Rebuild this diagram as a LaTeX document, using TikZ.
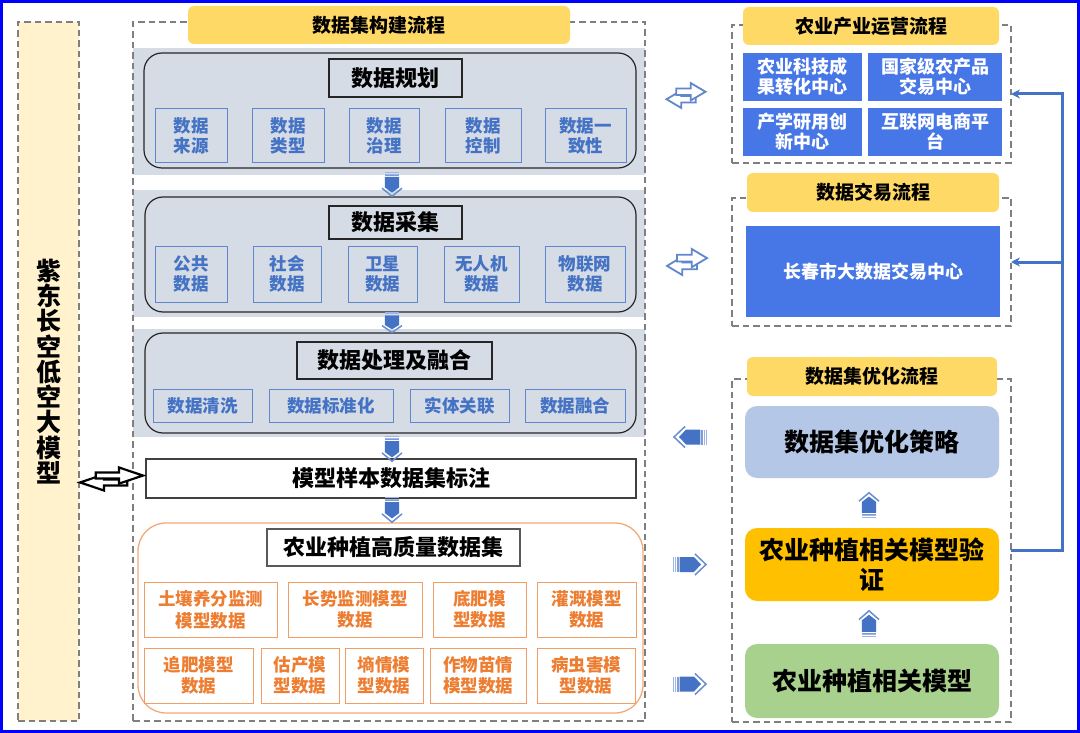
\documentclass[tikz,border=0pt]{standalone}
\usepackage{fontspec}
\setmainfont{Noto Sans CJK SC}
\usetikzlibrary{arrows.meta,calc}
\definecolor{hdr}{HTML}{FFD966}
\definecolor{lyel}{HTML}{FFF2CC}
\definecolor{band}{HTML}{D6DCE5}
\definecolor{sblue}{HTML}{4472C4}
\definecolor{rblue}{HTML}{4776E6}
\definecolor{optb}{HTML}{B4C7E7}
\definecolor{verif}{HTML}{FFC000}
\definecolor{modg}{HTML}{A9D18E}
\definecolor{orgt}{HTML}{ED7D31}
\definecolor{orgb}{HTML}{F4B183}
\definecolor{dgray}{HTML}{7F7F7F}
\definecolor{stripe}{HTML}{9DB5E3}
\newcommand\boxnode[7]{\node[#1, inner sep=0pt, outer sep=0pt, minimum width={(#5-#3)*1pt}, minimum height={(#6-#4)*1pt}] (#2) at ({(#3+#5)/2},{(#4+#6)/2}) {#7};}
\tikzset{
  dashbox/.style={draw=dgray, line width=1.5pt, dash pattern=on 6.5pt off 4pt},
  hdrbox/.style={fill=hdr, rounded corners=6pt, font=\bfseries\fontsize{19}{22}\selectfont},
  ttl/.style={draw=black!85, line width=1.2pt, font=\bfseries\fontsize{22}{26}\selectfont},
  sub/.style={draw=sblue!85, line width=1pt, text=sblue, font=\bfseries\fontsize{17.5}{20}\selectfont, align=center},
  osub/.style={draw=orgt!75, line width=1pt, text=orgt, font=\bfseries\fontsize{17.5}{21.5}\selectfont, align=center},
  rbox/.style={fill=rblue, text=white, font=\bfseries\fontsize{18}{20}\selectfont, align=center},
  bigbox/.style={rounded corners=12pt, font=\bfseries\fontsize{25}{30}\selectfont, align=center},
  roundband/.style={draw=black!85, line width=1.2pt, rounded corners=18pt},
  conn/.style={draw=sblue, line width=3pt, line join=miter},
  pics/blockarr/.style n args={2}{code={
    \begin{scope}[xscale=#1/17, yscale=#2/10.5]
      \fill[stripe] (-17,-7.5) rectangle (-15.8,7.5);
      \fill[stripe] (-14.8,-7.5) rectangle (-13.6,7.5);
      \fill[sblue!70] (-12.6,-7.5) rectangle (-11.4,7.5);
      \fill[sblue] (-10.4,-7.5) -- (4,-7.5) -- (11,0) -- (4,7.5) -- (-10.4,7.5) -- cycle;
      \draw[sblue!80, line width=1.5pt, line join=miter] (5,-10.5) -- (16,0) -- (5,10.5);
    \end{scope}
  }},
  pics/dblarr/.style n args={4}{code={
    \begin{scope}[shift={(-#1,-#2)}, xscale=2*#1, yscale=2*#2]
      \draw[#3, line width=#4, fill=white, line join=miter] (0.75,0.52) -- (0.38,0.52) -- (0.38,0.30) -- (0,0.65) -- (0.38,1.0) -- (0.38,0.78) -- (0.75,0.78) -- cycle;
      \draw[#3, line width=#4, fill=white, line join=miter] (0.25,0.22) -- (0.62,0.22) -- (0.62,0.0) -- (1.0,0.35) -- (0.62,0.70) -- (0.62,0.48) -- (0.25,0.48) -- cycle;
    \end{scope}
  }}
}
\begin{document}
\begin{tikzpicture}[x=1pt,y=-1pt]
\useasboundingbox (0,0) rectangle (1080,733);
\fill[white] (0,0) rectangle (1080,733);
% left column
\boxnode{dashbox, fill=lyel, font=\bfseries\fontsize{25}{25.3}\selectfont, align=center}{leftbox}{18}{22}{79}{721}{紫\\东\\长\\空\\低\\空\\大\\模\\型}
% bands
\fill[band] (133,48) rectangle (645,175);
\fill[band] (133,190) rectangle (645,317);
\fill[band] (133,329) rectangle (645,437);
\boxnode{dashbox}{midbox}{133}{22}{645}{721}{}
\boxnode{hdrbox}{hdrmid}{188}{6}{570}{44}{数据集构建流程}
% band 1
\boxnode{roundband}{r1}{144}{53}{636}{168}{}
\boxnode{ttl}{t1}{329}{59}{462}{97}{数据规划}
\boxnode{sub}{s11}{155}{109}{227}{163}{数据\\来源}
\boxnode{sub}{s12}{252}{109}{324}{163}{数据\\类型}
\boxnode{sub}{s13}{349}{109}{419}{163}{数据\\治理}
\boxnode{sub}{s14}{445}{109}{521}{163}{数据\\控制}
\boxnode{sub}{s15}{545}{109}{626}{163}{数据一\\致性}
% band 2
\boxnode{roundband}{r2}{145}{197}{636}{312}{}
\boxnode{ttl}{t2}{329}{206}{462}{239}{数据采集}
\boxnode{sub}{s21}{155}{246}{227}{302}{公共\\数据}
\boxnode{sub}{s22}{253}{246}{321}{302}{社会\\数据}
\boxnode{sub}{s23}{348}{246}{417}{302}{卫星\\数据}
\boxnode{sub}{s24}{444}{246}{519}{302}{无人机\\数据}
\boxnode{sub}{s25}{545}{246}{625}{302}{物联网\\数据}
% band 3
\boxnode{roundband}{r3}{145}{333}{636}{433}{}
\boxnode{ttl}{t3}{297}{342}{492}{379}{数据处理及融合}
\boxnode{sub}{s31}{153}{389}{252}{422}{数据清洗}
\boxnode{sub}{s32}{269}{389}{393}{422}{数据标准化}
\boxnode{sub}{s33}{410}{389}{509}{422}{实体关联}
\boxnode{sub}{s34}{525}{389}{625}{422}{数据融合}
% annotation
\boxnode{ttl, fill=white, draw=black!75}{annot}{146}{459}{636}{498}{模型样本数据集标注}
% orange
\boxnode{draw=orgt!65, line width=1.3pt, rounded corners=28pt}{orect}{138}{523}{643}{713}{}
\boxnode{ttl, fill=white, draw=black!65}{ot}{267}{529}{520}{566}{农业种植高质量数据集}
\boxnode{osub}{o11}{144}{582}{277}{637}{土壤养分监测\\模型数据}
\boxnode{osub}{o12}{288}{582}{422}{637}{长势监测模型\\数据}
\boxnode{osub}{o13}{433}{582}{526}{637}{底肥模\\型数据}
\boxnode{osub}{o14}{537}{582}{636}{637}{灌溉模型\\数据}
\boxnode{osub}{o21}{144}{648}{253}{703}{追肥模型\\数据}
\boxnode{osub}{o22}{261}{648}{339}{703}{估产模\\型数据}
\boxnode{osub}{o23}{345}{648}{423}{703}{墒情模\\型数据}
\boxnode{osub}{o24}{430}{648}{526}{703}{作物苗情\\模型数据}
\boxnode{osub}{o25}{537}{648}{635}{703}{病虫害模\\型数据}
% down arrows
\pic[rotate=-90] at (392,184.5) {blockarr={12.5}{10}};
\pic[rotate=-90] at (392,322.5) {blockarr={10.5}{10}};
\pic[rotate=-90] at (392,449) {blockarr={13}{10}};
\pic[rotate=-90] at (392,510) {blockarr={13}{10}};
% right column
\boxnode{dashbox}{box1}{732}{25}{1011}{163}{}
\boxnode{hdrbox}{hdr1}{743}{7}{999}{45}{农业产业运营流程}
\boxnode{rbox}{rb1}{743}{53}{862}{101}{农业科技成\\果转化中心}
\boxnode{rbox}{rb2}{868}{53}{1002}{101}{国家级农产品\\交易中心}
\boxnode{rbox}{rb3}{743}{108}{862}{156}{产学研用创\\新中心}
\boxnode{rbox}{rb4}{868}{108}{1002}{156}{互联网电商平\\台}
\boxnode{dashbox}{box2}{732}{198}{1011}{326}{}
\boxnode{hdrbox}{hdr2}{747}{173}{999}{212}{数据交易流程}
\boxnode{rbox}{rb5}{746}{226}{1000}{317}{长春市大数据交易中心}
\boxnode{dashbox}{box3}{732}{379}{1011}{722}{}
\boxnode{hdrbox}{hdr3}{747}{357}{997}{396}{数据集优化流程}
\boxnode{bigbox, fill=optb}{opt}{745}{406}{999}{478}{数据集优化策略}
\boxnode{bigbox, fill=verif}{verify}{745}{528}{999}{601}{农业种植相关模型验\\证}
\boxnode{bigbox, fill=modg}{model}{745}{644}{999}{718}{农业种植相关模型}
\pic[rotate=90] at (869,505) {blockarr={13}{10}};
\pic[rotate=90] at (869,623.5) {blockarr={13.5}{10}};
% side arrows
\pic at (686,95.5) {dblarr={19.5}{12.5}{sblue!85}{1.8pt}};
\pic at (687,262) {dblarr={20}{13}{sblue!85}{1.8pt}};
\pic[rotate=180] at (690,437) {blockarr={17}{10.5}};
\pic at (690,564.5) {blockarr={17}{10.5}};
\pic at (690,684) {blockarr={17}{10.5}};
\pic at (111.5,479) {dblarr={31.5}{11.5}{black}{2.2pt}};
% connector
\coordinate (vout) at (1011,550);
\draw[conn,-{Stealth[length=9pt,width=9pt]}] (vout) -| ($(box1.east)+(51,0)$) -- (box1.east);
\draw[conn,-{Stealth[length=9pt,width=9pt]}] ($(box2.east)+(51,0)$) -- (box2.east);
% frame
\draw[blue, line width=3pt] (1.5,1.5) rectangle (1078.5,731.5);
\end{tikzpicture}
\end{document}
